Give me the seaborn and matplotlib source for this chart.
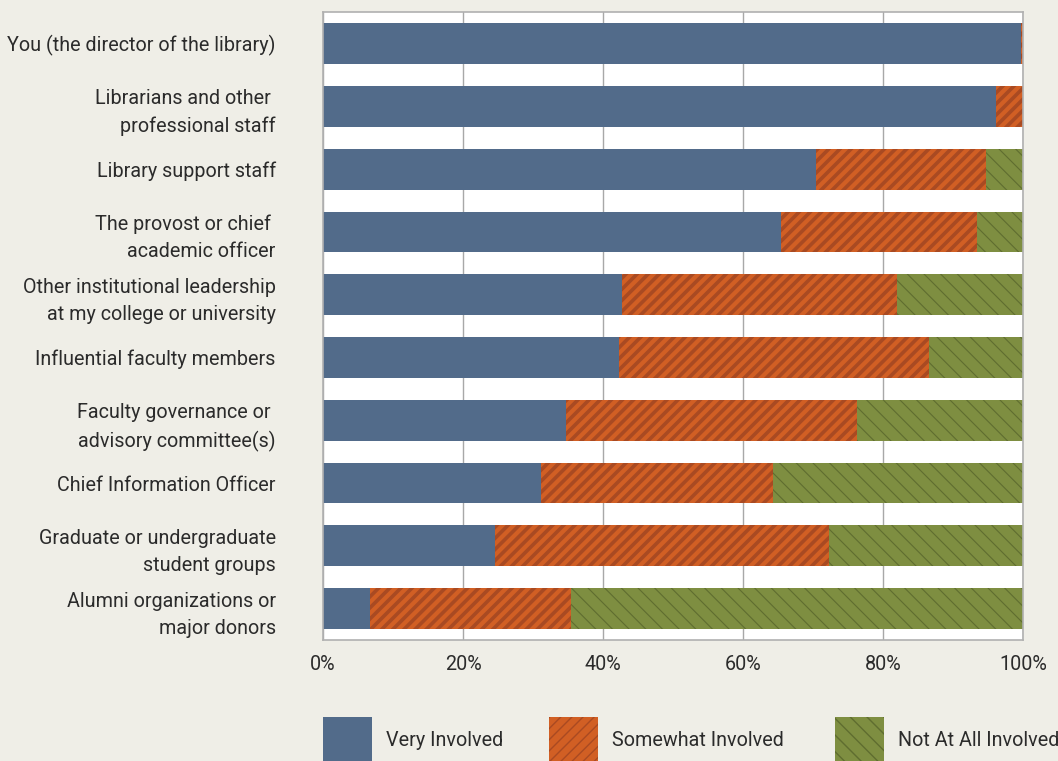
import numpy as np
import pandas as pd
import matplotlib
matplotlib.use("Agg")
import matplotlib.pyplot as plt
import seaborn as sns
from matplotlib.patches import Patch

groups = [
    "You (the director of the library)",
    "Librarians and other \nprofessional staff",
    "Library support staff",
    "The provost or chief \nacademic officer",
    "Other institutional leadership\nat my college or university",
    "Influential faculty members",
    "Faculty governance or \nadvisory committee(s)",
    "Chief Information Officer",
    "Graduate or undergraduate\nstudent groups",
    "Alumni organizations or\nmajor donors",
]
very = [99.7, 96.2, 70.5, 65.5, 42.7, 42.3, 34.7, 31.2, 24.6, 6.7]
somewhat = [0.3, 3.8, 24.2, 27.9, 39.3, 44.3, 41.6, 33.1, 47.7, 28.8]
not_at_all = [0.0, 0.0, 5.3, 6.6, 18.0, 13.4, 23.7, 35.7, 27.7, 64.5]
series_names = ["Very Involved", "Somewhat Involved", "Not At All Involved"]
xticks = [0, 20, 40, 60, 80, 100]

BG = "#efeee7"
BLUE = "#526b8a"
ORANGE = "#d15f24"
ORANGE_DK = "#a94a22"
GREEN = "#7e8e41"
GREEN_DK = "#5f6d30"
TXT = "#2b2b2b"
FS = 14.2

sns.set_style("white")
plt.rcParams["font.family"] = ["Roboto", "DejaVu Sans"]
plt.rcParams["hatch.linewidth"] = 1.0

df = pd.DataFrame({"group": groups, "very": very, "somewhat": somewhat, "not": not_at_all})
df["c1"] = df["very"]
df["c2"] = df["very"] + df["somewhat"]
df["c3"] = df["c2"] + df["not"]

fig = plt.figure(figsize=(10.58, 7.61), dpi=100, facecolor=BG)
ax = fig.add_axes([0.3053, 0.159, 0.6616, 0.825])
ax.set_facecolor("white")

# hatch style per series: (pattern, colour, hatch linewidth)
styles = {
    "green": ("\\\\", GREEN_DK, 0.8),
    "orange": ("///", ORANGE_DK, 2.6),
}

# stacked bars drawn as cumulative totals, back to front
layers = [("c3", GREEN, "green"), ("c2", ORANGE, "orange"), ("c1", BLUE, None)]
for col, fc, key in layers:
    sns.barplot(data=df, x=col, y="group", orient="h", color=fc, width=0.65,
                saturation=1, ax=ax, linewidth=0)
    bars = ax.patches[-len(df):]
    for b in bars:
        b.set_facecolor(fc)
        if key:
            hatch, hc, hlw = styles[key]
            b.set_hatch(hatch)
            b.set_edgecolor(hc)
            b.set_linewidth(0)
            b.set_hatch_linewidth(hlw)

ax.set_xlim(0, 100)
ax.set_ylim(len(df) - 0.5, -0.5)
ax.set_xticks(xticks)
ax.set_xticklabels([f"{t}%" for t in xticks], fontsize=FS, color=TXT)
ax.set_yticklabels(groups, fontsize=FS, color=TXT, linespacing=1.55)
ax.tick_params(axis="x", length=0, pad=11)
ax.tick_params(axis="y", length=0, pad=34)
ax.set_xlabel("")
ax.set_ylabel("")
ax.xaxis.grid(True, color="#a8a8a8", linewidth=1)
ax.set_axisbelow(True)
for s in ax.spines.values():
    s.set_color("#b0b0b0")
    s.set_linewidth(1.2)

handles = [Patch(facecolor=BLUE, edgecolor=BLUE, linewidth=0)]
for key, fc in [("orange", ORANGE), ("green", GREEN)]:
    hatch, hc, hlw = styles[key]
    h = Patch(facecolor=fc, edgecolor=hc, hatch=hatch, linewidth=0)
    h.set_hatch_linewidth(hlw)
    handles.append(h)

# one legend per entry, placed like the original
for h, name, x0 in zip(handles, series_names, [0.3053, 0.519, 0.789]):
    leg = fig.legend([h], [name], loc="lower left", bbox_to_anchor=(x0, -0.003),
                     frameon=False, fontsize=FS, handlelength=2.5, handleheight=3.2,
                     handletextpad=0.7, borderaxespad=0, borderpad=0)
    for t in leg.get_texts():
        t.set_color(TXT)

fig.savefig("out.png", dpi=100, facecolor=BG)
